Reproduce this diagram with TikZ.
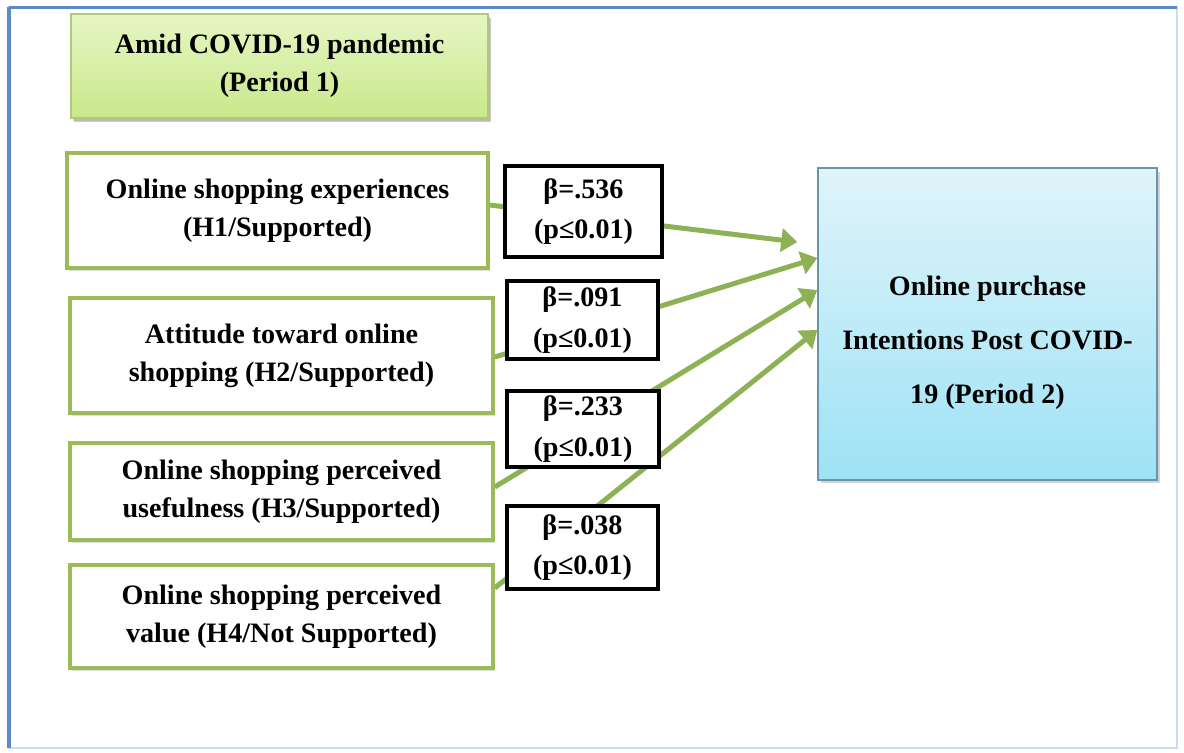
\documentclass[tikz,border=0pt]{standalone}
\usepackage{fontspec}
\setmainfont{Liberation Serif}
\usetikzlibrary{arrows.meta,backgrounds,shadows}
\definecolor{hgreen}{HTML}{9BBB59}
\definecolor{hline}{HTML}{8DB255}
\definecolor{ttop}{HTML}{E6F6C4}
\definecolor{tbot}{HTML}{C9E88A}
\definecolor{otop}{HTML}{E0F4FA}
\definecolor{obot}{HTML}{9DE2F5}
\definecolor{obord}{HTML}{6A93AE}
\definecolor{frm}{HTML}{5B8BC6}

\begin{document}
\begin{tikzpicture}[
  x=0.02cm, y=-0.02cm,
  hyp/.style={rectangle, draw=hgreen, line width=0.07cm, fill=white, minimum width=8.46cm, align=center,
    font=\fontsize{16}{21.5}\selectfont\bfseries, drop shadow={shadow xshift=1pt, shadow yshift=-1.5pt, opacity=0.25}},
  coef/.style={rectangle, draw=black, line width=0.08cm, fill=white, minimum width=3.04cm, inner sep=1pt, align=center,
    font=\fontsize{16}{23}\selectfont\bfseries},
  eff/.style={hline, line width=0.1cm, -{Triangle[length=0.32cm,width=0.46cm]}}
]
\useasboundingbox (0,0) rectangle (1184,752);
\draw[frm!30, line width=0.03cm] (9,7) rectangle (1177,748);
\draw[frm, line width=0.06cm] (9,7) -- (1177,7);
\draw[frm, line width=0.1cm] (9,748) -- (9,7);

\node[hyp, draw=hgreen!80, line width=0.04cm, top color=ttop, bottom color=tbot, minimum width=8.34cm, minimum height=2.08cm,
  drop shadow={shadow xshift=1.5pt, shadow yshift=-2.5pt, opacity=0.4}] at (279.5,66) (tt) {Amid COVID-19 pandemic\\(Period 1)};

\node[hyp, minimum width=8.42cm, minimum height=2.3cm]  at (277.5,210.5) (h1) {Online shopping experiences\\(H1/Supported)};
\node[hyp, minimum height=2.3cm]  at (281.5,355.5) (h2) {Attitude toward online\\shopping (H2/Supported)};
\node[hyp, minimum height=1.94cm] at (281.5,491.5) (h3) {Online shopping perceived\\usefulness (H3/Supported)};
\node[hyp, minimum height=2.06cm] at (281.5,616.5) (h4) {Online shopping perceived\\value (H4/Not Supported)};

\node[coef, minimum width=3.14cm, minimum height=1.82cm] at (583.5,211.5) (b1) {β=.536\\(p≤0.01)};
\node[coef, minimum height=1.56cm] at (582.5,320) (b2) {β=.091\\(p≤0.01)};
\node[coef, minimum height=1.52cm] at (583,429)   (b3) {β=.233\\(p≤0.01)};
\node[coef, minimum height=1.66cm] at (582.5,547.5) (b4) {β=.038\\(p≤0.01)};

\node[rectangle, draw=obord, line width=0.03cm, top color=otop, bottom color=obot, minimum width=6.78cm, minimum height=6.24cm,
  align=center, font=\fontsize{16}{30.5}\selectfont\bfseries, drop shadow={shadow xshift=1.5pt, shadow yshift=-2pt, opacity=0.35}]
  at (987.5,324) (tgt) {\mbox{}\\[2pt]Online purchase\\Intentions Post COVID-\\19 (Period 2)};

\begin{scope}[on background layer]
\draw[eff] ([yshift=0.11cm]h1.east) -- ([xshift=-0.4cm, yshift=1.64cm]tgt.west);
\draw[eff] ([yshift=-0.03cm]h2.east) -- ([yshift=1.32cm]tgt.west);
\draw[eff] ([yshift=0.09cm]h3.east) -- ([yshift=0.68cm]tgt.west);
\draw[eff] ([yshift=0.57cm]h4.east) -- ([yshift=-0.12cm]tgt.west);
\end{scope}
\end{tikzpicture}
\end{document}
